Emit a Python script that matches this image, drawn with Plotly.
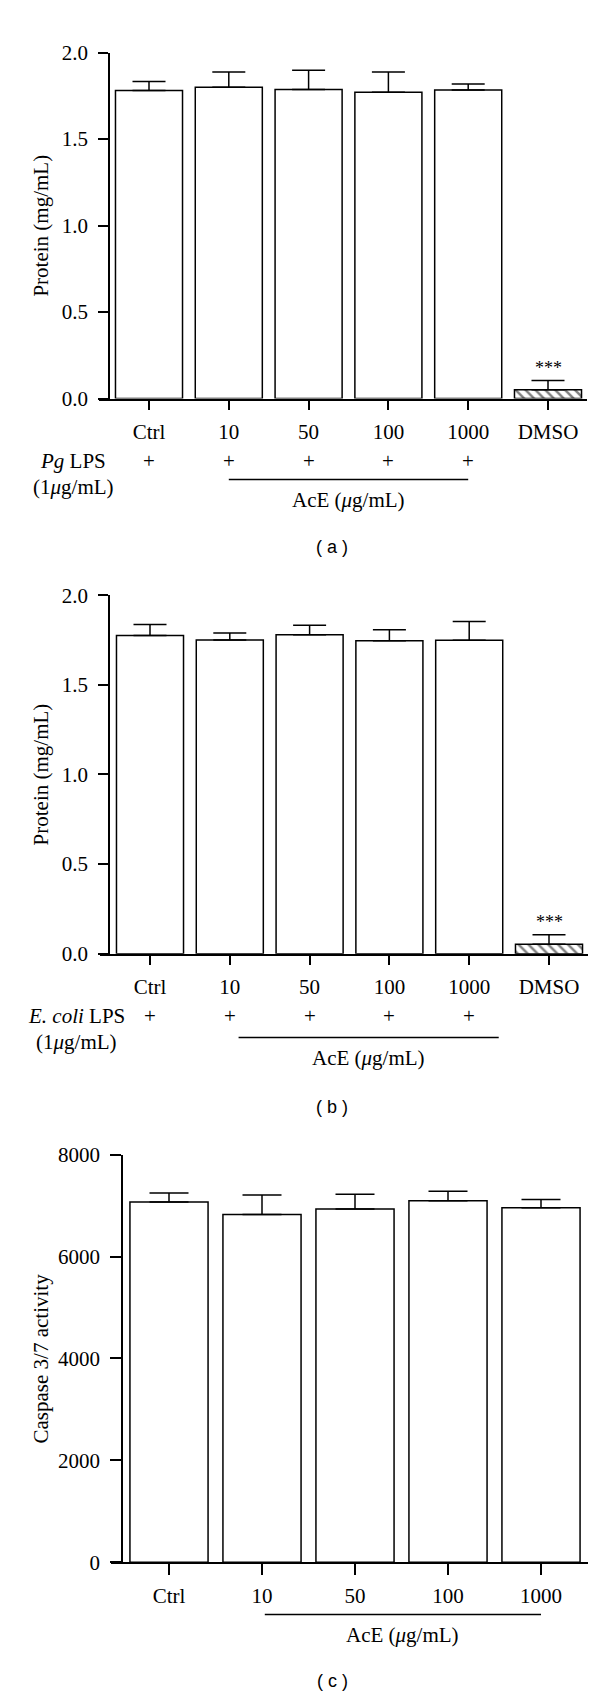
import plotly.graph_objects as go

# ---------------- data ----------------
categories_ab = ["Ctrl", "10", "50", "100", "1000", "DMSO"]
lps_marks_ab = ["+", "+", "+", "+", "+", ""]
protein_pg_mean = [1.780, 1.800, 1.787, 1.770, 1.783, 0.051]
protein_pg_sem = [0.053, 0.088, 0.110, 0.118, 0.035, 0.053]
protein_ec_mean = [1.775, 1.751, 1.780, 1.746, 1.749, 0.053]
protein_ec_sem = [0.062, 0.039, 0.053, 0.062, 0.104, 0.053]
categories_c = ["Ctrl", "10", "50", "100", "1000"]
caspase_mean = [7070, 6825, 6935, 7095, 6960]
caspase_sem = [180, 387, 290, 188, 162]
protein_ticks = [0.0, 0.5, 1.0, 1.5, 2.0]
caspase_ticks = [0, 2000, 4000, 6000, 8000]

W, H = 600, 1700
SERIF = "Liberation Serif"
SANS = "Liberation Sans"
FS = 21


def fx(p):
    return p / W


def fy(p):
    return 1 - p / H


fig = go.Figure()

panels = [
    dict(cats=categories_ab, mean=protein_pg_mean, sem=protein_pg_sem,
         xl=91, xr=579, c0=141, step=79.8, yaxis_x=101, yt=33, yb=384,
         rng=[0, 2.0], ticks=protein_ticks, fmt=".1f", cap=16.5,
         ytitle="Protein (mg/mL)", row_label="<i>Pg</i> LPS", row_x=65,
         line=(1.0, 4.0), line_off=82, caption="( a )", cap_y=535, ticklen=10),
    dict(cats=categories_ab, mean=protein_ec_mean, sem=protein_ec_sem,
         xl=92, xr=580, c0=142, step=79.8, yaxis_x=101, yt=583.5, yb=947,
         rng=[0, 2.0], ticks=protein_ticks, fmt=".1f", cap=16.5,
         ytitle="Protein (mg/mL)", row_label="<i>E. coli</i> LPS", row_x=68,
         line=(1.11, 4.37), line_off=85, caption="( b )", cap_y=1103, ticklen=10),
    dict(cats=categories_c, mean=caspase_mean, sem=caspase_sem,
         xl=103, xr=580, c0=161, step=93.0, yaxis_x=114, yt=1151, yb=1564.3,
         rng=[0, 8000], ticks=caspase_ticks, fmt="d", cap=19.5,
         ytitle="Caspase 3/7 activity", row_label=None, row_x=None,
         line=(1.03, 4.0), line_off=53, caption="( c )", cap_y=1685, ticklen=11),
]

annotations = []
shapes = []

for i, p in enumerate(panels):
    n = "" if i == 0 else str(i + 1)
    xa = "x" + n
    ya = "y" + n
    idx = list(range(len(p["cats"])))
    patterns = ["\\" if c == "DMSO" else "" for c in p["cats"]]
    fig.add_trace(go.Bar(
        x=p["cats"], y=p["mean"], xaxis=xa, yaxis=ya, width=0.84,
        marker=dict(color="white", line=dict(color="black", width=1.5),
                    pattern=dict(shape=patterns, fgcolor="black", bgcolor="white",
                                 size=7, solidity=0.35)),
        error_y=dict(type="data", symmetric=False, array=p["sem"],
                     arrayminus=[0] * len(p["sem"]), color="black",
                     thickness=1.5, width=p["cap"]),
        showlegend=False,
    ))
    x0 = (p["xl"] - p["c0"]) / p["step"]
    x1 = (p["xr"] - p["c0"]) / p["step"]
    fig.update_layout(**{
        "xaxis" + n: dict(
            domain=[fx(p["xl"]), fx(p["xr"])], anchor=ya, type="category",
            range=[x0, x1], showline=True, linecolor="black", linewidth=1.5,
            ticks="outside", ticklen=p["ticklen"], tickwidth=1.5, tickcolor="black",
            tickfont=dict(family=SERIF, size=FS, color="black"),
            ticklabelstandoff=3,
            showgrid=False, zeroline=False, fixedrange=True,
        ),
        "yaxis" + n: dict(
            domain=[fy(p["yb"]), fy(p["yt"])], anchor="free",
            position=fx(p["yaxis_x"]), range=p["rng"],
            tickvals=p["ticks"], tickformat=p["fmt"],
            showline=True, linecolor="black", linewidth=1.5,
            ticks="outside", ticklen=p["ticklen"], tickwidth=1.5, tickcolor="black",
            tickfont=dict(family=SERIF, size=FS, color="black"),
            ticklabelstandoff=6,
            showgrid=False, zeroline=False, fixedrange=True,
        ),
    })
    # y title
    annotations.append(dict(
        text=p["ytitle"], textangle=-90, xref="paper", yref="paper",
        x=fx(33), y=fy((p["yt"] + p["yb"]) / 2), xanchor="center", yanchor="middle",
        showarrow=False, font=dict(family=SERIF, size=FS, color="black")))
    # stars over DMSO
    for k, c, m, s in zip(idx, p["cats"], p["mean"], p["sem"]):
        if c == "DMSO":
            annotations.append(dict(
                text="***", xref=xa, yref=ya, x=k, y=m + s, xanchor="center",
                yanchor="bottom", yshift=1, showarrow=False,
                font=dict(family=SERIF, size=18, color="black")))
    # LPS row
    row_y = p["yb"] + 63
    if p["row_label"]:
        annotations.append(dict(
            text=p["row_label"], xref="paper", yref="paper", x=fx(p["row_x"]),
            y=fy(row_y), xanchor="center", yanchor="middle", showarrow=False,
            font=dict(family=SERIF, size=FS, color="black")))
        annotations.append(dict(
            text="(1<i>μ</i>g/mL)", xref="paper", yref="paper", x=fx(p["row_x"]),
            y=fy(row_y + 27), xanchor="center", yanchor="middle", showarrow=False,
            font=dict(family=SERIF, size=FS, color="black")))
        for k, mk in zip(idx, lps_marks_ab):
            if mk:
                annotations.append(dict(
                    text=mk, xref=xa, yref="paper", x=k, y=fy(row_y),
                    xanchor="center", yanchor="middle", showarrow=False,
                    font=dict(family=SERIF, size=FS, color="black")))
    line_y = p["yb"] + p["line_off"]
    l0, l1 = p["line"]
    shapes.append(dict(type="line", xref=xa, yref="paper", x0=l0, x1=l1,
                       y0=fy(line_y), y1=fy(line_y),
                       line=dict(color="black", width=1.5)))
    mid_px = p["c0"] + p["step"] * (l0 + l1) / 2
    annotations.append(dict(
        text="AcE (<i>μ</i>g/mL)", xref="paper", yref="paper", x=fx(mid_px),
        y=fy(line_y + 21), xanchor="center", yanchor="middle", showarrow=False,
        font=dict(family=SERIF, size=FS, color="black")))
    annotations.append(dict(
        text=p["caption"], xref="paper", yref="paper", x=fx(324), y=fy(p["cap_y"]),
        xanchor="center", yanchor="middle", showarrow=False,
        font=dict(family=SANS, size=18, color="black")))

fig.update_layout(
    width=W, height=H, margin=dict(l=0, r=0, t=0, b=0),
    paper_bgcolor="white", plot_bgcolor="white",
    annotations=annotations, shapes=shapes, bargap=0.16,
)

fig.write_html("out.html")
